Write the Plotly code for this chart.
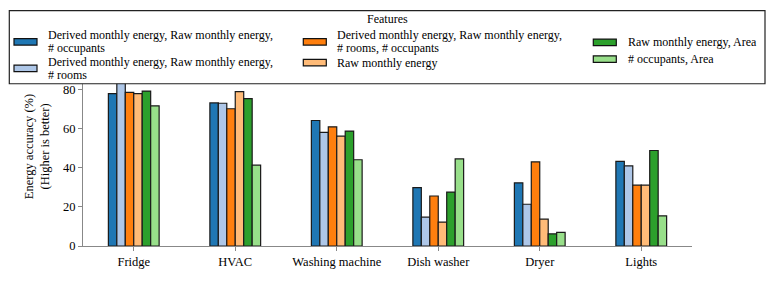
import plotly.graph_objects as go

appliances = ["Fridge", "HVAC", "Washing machine", "Dish washer", "Dryer", "Lights"]
series_names = [
    "Derived monthly energy, Raw monthly energy,<br># occupants",
    "Derived monthly energy, Raw monthly energy,<br># rooms",
    "Derived monthly energy, Raw monthly energy,<br># rooms, # occupants",
    "Raw monthly energy",
    "Raw monthly energy, Area",
    "# occupants, Area",
]
s_derived_raw_occ = [77.7, 73.0, 64.0, 29.8, 32.2, 43.2]
s_derived_raw_rooms = [96.0, 72.8, 58.0, 14.7, 21.3, 40.9]
s_derived_raw_rooms_occ = [78.4, 70.0, 60.8, 25.5, 42.9, 31.0]
s_raw = [77.7, 78.7, 56.0, 12.2, 13.7, 31.0]
s_raw_area = [79.0, 75.2, 58.6, 27.5, 6.2, 48.7]
s_occ_area = [71.5, 41.2, 44.0, 44.4, 6.9, 15.4]
y_ticks = [0, 20, 40, 60, 80]

series_values = [s_derived_raw_occ, s_derived_raw_rooms, s_derived_raw_rooms_occ,
                 s_raw, s_raw_area, s_occ_area]
colors = ["#1f77b4", "#aec7e8", "#ff7f0e", "#ffbb78", "#2ca02c", "#98df8a"]

FONT = "Liberation Serif, Times New Roman, serif"
FS = 12.5
FS_LEG = 12
W, H = 775, 281
L, R, T, B = 83, 692, 47, 249

fig = go.Figure()
for name, vals, c in zip(series_names, series_values, colors):
    fig.add_trace(go.Bar(x=appliances, y=vals, name=name.replace("<br>", " "),
                         marker=dict(color=c, line=dict(color="#1a1a1a", width=1.2)),
                         showlegend=False))

def px(x):
    return (x - L) / (R - L)

def py(y):
    return (B - y) / (B - T)

shapes = []
annotations = []
# legend frame
shapes.append(dict(type="rect", xref="paper", yref="paper", x0=px(9.3), x1=px(765),
                   y0=py(84.3), y1=py(10), fillcolor="white",
                   line=dict(color="#222", width=1.2), layer="above"))
annotations.append(dict(xref="paper", yref="paper", x=px(387), y=py(19), text="Features",
                        showarrow=False, xanchor="center", yanchor="middle",
                        font=dict(family=FONT, size=FS_LEG, color="black")))
entries = [(14, 41.7, 45.7), (14, 68.7, 45.7), (303.3, 41.7, 335), (303.3, 62.8, 335),
           (593.3, 42.3, 626), (593.3, 59.3, 626)]
LINE_H = 13.5
for (sx, cy, tx), name, c in zip(entries, series_names, colors):
    shapes.append(dict(type="rect", xref="paper", yref="paper", x0=px(sx), x1=px(sx + 23),
                       y0=py(cy + 3.3), y1=py(cy - 3.3), fillcolor=c,
                       line=dict(color="#111", width=1.2), layer="above"))
    lines = name.split("<br>")
    n = len(lines)
    for i, ln in enumerate(lines):
        ly = cy + (i - (n - 1) / 2) * LINE_H
        annotations.append(dict(xref="paper", yref="paper", x=px(tx), y=py(ly), text=ln,
                                showarrow=False, xanchor="left", yanchor="middle",
                                align="left",
                                font=dict(family=FONT, size=FS_LEG, color="black")))

fig.update_layout(
    width=W, height=H,
    margin=dict(l=L, r=W - R, t=T, b=H - B, pad=0),
    paper_bgcolor="white", plot_bgcolor="white",
    barmode="group", bargap=0.5, bargroupgap=0,
    font=dict(family=FONT, size=FS, color="black"),
    shapes=shapes, annotations=annotations,
    xaxis=dict(range=[-0.5, 5.5], showline=True, linecolor="#888", linewidth=1,
               ticks="outside", ticklen=4, tickcolor="#888", showgrid=False,
               tickfont=dict(family=FONT, size=FS)),
    yaxis=dict(range=[0, 101.5], tickvals=y_ticks, showline=True, linecolor="#888",
               linewidth=1, ticks="outside", ticklen=4, tickcolor="#888", showgrid=False,
               zeroline=False, tickfont=dict(family=FONT, size=FS),
               title=dict(text="Energy accuracy (%)<br>(Higher is better)",
                          font=dict(family=FONT, size=FS), standoff=10)),
)
fig.write_html("out.html", config={"displayModeBar": False},
               post_script="document.body.style.margin='0';document.body.style.padding='0';")
